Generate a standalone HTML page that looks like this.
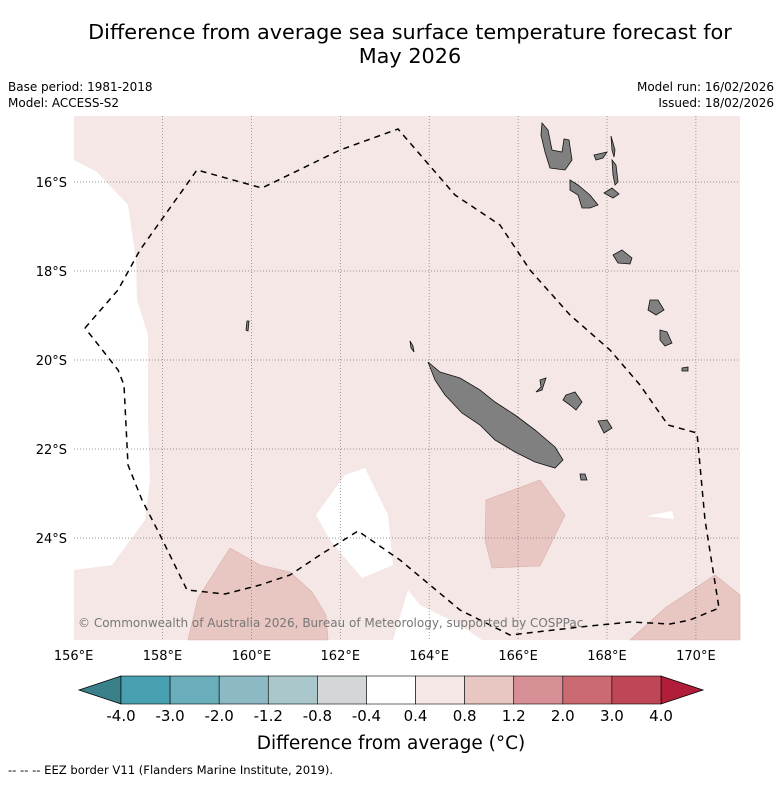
<!DOCTYPE html>
<html><head><meta charset="utf-8"><style>
body{margin:0;background:#fff;font-family:"Liberation Sans","DejaVu Sans",sans-serif}
svg text{font-family:"DejaVu Sans","Liberation Sans",sans-serif}
</style></head><body>
<svg width="781" height="781" viewBox="0 0 781 781" id="chart">
<text x="410" y="39" font-size="20.8" text-anchor="middle">Difference from average sea surface temperature forecast for</text>
<text x="410" y="63" font-size="20.8" text-anchor="middle">May 2026</text>
<text x="8" y="91" font-size="12">Base period: 1981-2018</text>
<text x="8" y="107" font-size="12">Model: ACCESS-S2</text>
<text x="774" y="91" font-size="12" text-anchor="end">Model run: 16/02/2026</text>
<text x="774" y="107" font-size="12" text-anchor="end">Issued: 18/02/2026</text>
<g>
<rect x="74" y="116" width="666" height="524" fill="#f4e7e6"/>
<polygon fill="#fff" points="74,160 97,172 128,205 136,260 137,300 148,335 148,420 150,480 145,520 112,565 74,570"/>
<polygon fill="#fff" points="316,515 345,475 365,468 388,515 393,565 362,578 330,540"/>
<polygon fill="#fff" points="393,640 408,590 420,605 460,625 482,640"/>
<polygon fill="#fff" points="646,516 672,511 674,519"/>
<polygon fill="#e8c6c2" stroke="#d9b0ac" stroke-width="0.6" points="486,500 540,480 565,515 540,566 492,568 485,540"/>
<polygon fill="#e8c6c2" stroke="#d9b0ac" stroke-width="0.6" points="188,640 198,598 230,548 260,565 290,572 312,592 326,615 328,640"/>
<polygon fill="#e8c6c2" stroke="#d9b0ac" stroke-width="0.6" points="630,640 665,608 715,575 740,595 740,640"/>
<g id="grid"></g>
<g fill="#808080" stroke="#111" stroke-width="0.8">
<polygon points="428,362 440,372 460,378 480,390 495,402 515,415 535,430 555,447 563,460 555,468 535,462 515,452 495,440 480,425 462,413 445,395 435,380"/>
<polygon points="542,123 548,130 552,150 562,152 564,139 569,140 572,160 565,170 550,168 545,152 541,135"/>
<polygon points="570,180 578,185 590,195 598,205 590,208 582,208 578,195 570,190"/>
<polygon points="613,255 622,250 632,258 630,264 618,263"/>
<polygon points="650,300 658,300 664,310 656,315 648,310"/>
<polygon points="660,330 667,332 672,343 665,346 660,340"/>
<polygon points="611,136 615,150 614,157 612,150"/>
<polygon points="612,160 616,165 618,182 615,185 613,175"/>
<polygon points="604,193 612,188 619,194 613,198"/>
<polygon points="594,155 607,152 603,158 596,160"/>
<polygon points="566,395 575,392 582,402 576,410 570,405 563,400"/>
<polygon points="598,421 607,420 612,428 604,433"/>
<polygon points="540,380 546,378 542,390 536,392 541,387"/>
<polygon points="580,474 585,474 587,480 581,480"/>
<polygon points="682,368 688,367 688,371 682,371"/>
<polygon points="247,321 249,321 248,331 246,330"/>
<polygon points="410,341 413,346 414,352 411,348"/>
</g>
<polyline fill="none" stroke="#000" stroke-width="1.5" stroke-dasharray="6,5" points="85,328 118,290 140,250 197,170 262,188 340,150 398,129 455,195 500,225 530,270 570,315 610,350 640,385 668,425 697,433 705,520 719,608 690,620 670,624 630,622 580,627 510,635 460,610 430,585 400,560 358,531 320,555 290,575 260,585 225,594 187,590 160,535 142,500 128,465 124,385 118,370 100,347 85,328"/>
<text x="78" y="627" font-size="12" fill="#777">© Commonwealth of Australia 2026, Bureau of Meteorology, supported by COSPPac</text>
</g>
<g id="axes"></g>
<g id="cbar"></g>
<text x="391" y="749" font-size="18.5" text-anchor="middle">Difference from average (°C)</text>
<text x="8" y="774" font-size="11.6">--  --  -- EEZ border V11 (Flanders Marine Institute, 2019).</text>
</svg>
<script>
const lonTicks=[156,158,160,162,164,166,168,170];
const latTicks=[16,18,20,22,24];
const cbarLevels=["-4.0","-3.0","-2.0","-1.2","-0.8","-0.4","0.4","0.8","1.2","2.0","3.0","4.0"];
const cbarColors=["#47a0b0","#6aaebb","#8cb9c4","#aac8cc","#d4d7d8","#ffffff","#f4e7e6","#e8c6c2","#d68f95","#cc6a72","#bf4755"];
const cbarUnder="#3a808a";
const cbarOver="#b01e3a";
const NS="http://www.w3.org/2000/svg";
const xLon=l=>73.6+(l-156)*44.45;
const yLat=l=>182+(l-16)*44.5;
function mk(tag,attrs,parent){const e=document.createElementNS(NS,tag);for(const k in attrs)e.setAttribute(k,attrs[k]);parent.appendChild(e);return e;}
const grid=document.getElementById('grid'),axes=document.getElementById('axes'),cbar=document.getElementById('cbar');
lonTicks.forEach(l=>{const x=xLon(l);
 if(l>156){const g=mk('line',{x1:x,x2:x,y1:116,y2:640,stroke:'#777','stroke-width':0.7,'stroke-dasharray':'1,2'},grid);
 
 }
 const t=mk('text',{x:x,y:660,'font-size':13,'text-anchor':'middle'},axes);t.textContent=l+'°E';
 
 });
latTicks.forEach(l=>{const y=yLat(l);
 const g=mk('line',{x1:74,x2:740,y1:y,y2:y,stroke:'#777','stroke-width':0.7,'stroke-dasharray':'1,2'},grid);
 
 
 const t=mk('text',{x:67,y:y+5,'font-size':13,'text-anchor':'end'},axes);t.textContent=l+'°S';
 
 });
const cx0=121,cx1=661,cy=676,ch=28,n=cbarColors.length,w=(cx1-cx0)/n;
const under=mk('polygon',{points:`${cx0},${cy} ${cx0},${cy+ch} 79,${cy+ch/2}`,fill:cbarUnder,stroke:'#000','stroke-width':0.8},cbar);


const over=mk('polygon',{points:`${cx1},${cy} ${cx1},${cy+ch} 703,${cy+ch/2}`,fill:cbarOver,stroke:'#000','stroke-width':0.8},cbar);


cbarColors.forEach((c,i)=>{const r=mk('rect',{x:cx0+i*w,y:cy,width:w,height:ch,fill:c,stroke:'#000','stroke-width':0.6},cbar);
 
 });
cbarLevels.forEach((v,i)=>{const t=mk('text',{x:cx0+i*w,y:721,'font-size':15,'text-anchor':'middle'},cbar);t.textContent=v;
 
 });
</script>
</body></html>
